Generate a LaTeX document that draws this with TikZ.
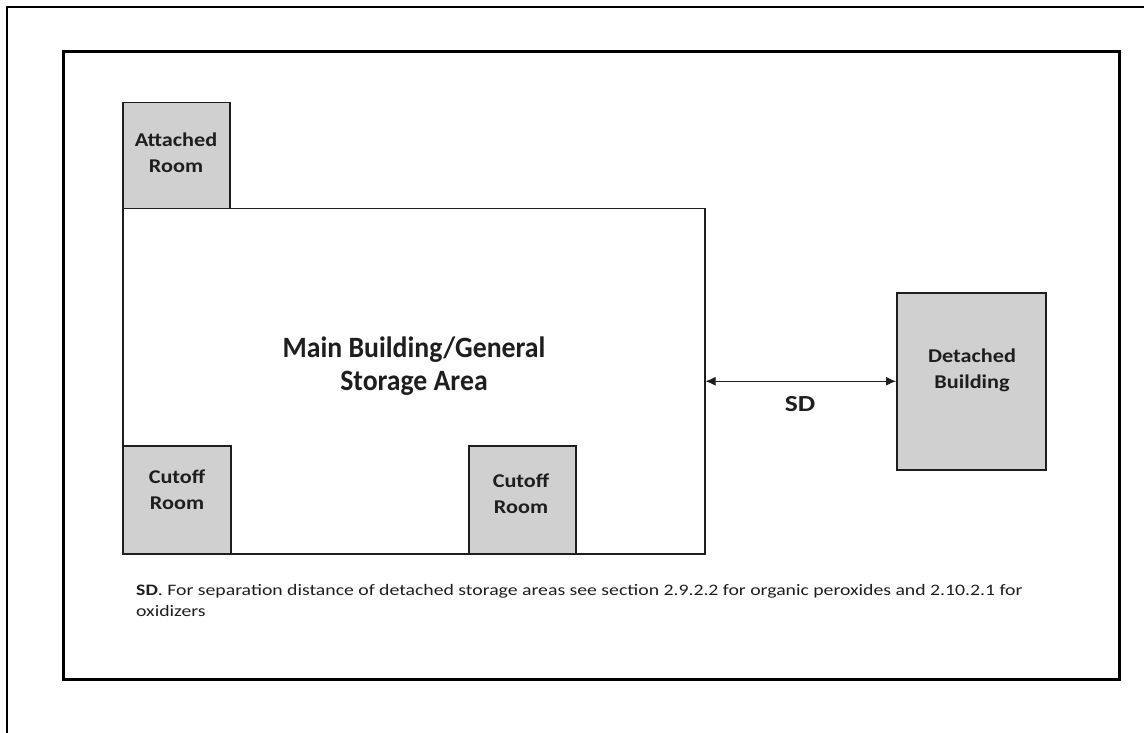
\documentclass[tikz,border=0pt]{standalone}
\usepackage{fontspec}
\setmainfont{Carlito}
\newfontfamily\widefont[FakeStretch=1.14]{Carlito}
\newfontfamily\notefont[FakeStretch=1.2]{Carlito}
\newfontfamily\longnotefont[FakeStretch=1.233]{Carlito}
\newfontfamily\narrowfont[FakeStretch=0.94]{Carlito}
\usetikzlibrary{arrows.meta}

\definecolor{roomgray}{RGB}{208,208,208}
\definecolor{inkline}{RGB}{30,30,30}

\begin{document}
\begin{tikzpicture}[x=1pt, y=-1pt, line join=miter,
  room/.style={draw=inkline, line width=1.5pt, fill=roomgray, inner sep=0pt, anchor=north west},
  roomtext/.style={align=center, inner sep=0pt, text=inkline, font=\widefont\fontsize{19.5}{26}\selectfont\bfseries},
  >={Latex[length=10pt,width=9pt]}]

  %% ==== frames ====
  \draw[line width=1.5pt] (1144,7) -- (7,7) -- (7,733);
  \draw[line width=3pt] (63,52) rectangle (1119,679);

  %% ==== buildings ====
  \node[room, fill=white, minimum width=582pt, minimum height=345pt] (main) at (122,208) {};
  \node[room, minimum width=107pt, minimum height=106pt] (attached) at (122,102) {};
  \node[room, minimum width=108pt, minimum height=108pt] (cutoffA) at (122,445) {};
  \node[room, minimum width=107pt, minimum height=108pt] (cutoffB) at (468,445) {};
  \node[room, minimum width=149pt, minimum height=177pt] (detached) at (896,292) {};

  %% ==== labels ====
  \node[roomtext] (attachedlbl) at (176,153) {Attached\\Room};
  \node[roomtext] (cutoffAlbl) at (177,490) {Cutoff\\Room};
  \node[roomtext] (cutoffBlbl) at (521,493.5) {Cutoff\\Room};
  \node[roomtext] (detachedlbl) at (972,370) {Detached\\Building};
  \node[roomtext, font=\narrowfont\fontsize{29.5}{33}\selectfont\bfseries] (mainlbl) at (414,366) {Main Building/General\\Storage Area};

  %% ==== separation distance ====
  \draw[<->, line width=1pt, draw=inkline] (main.east) -- (detached.west);
  \node[anchor=base, inner sep=0pt, text=inkline, font=\notefont\fontsize{23}{28}\selectfont\bfseries] (sdlbl) at (800,411) {SD};

  %% ==== note ====
  \node[anchor=north west, inner sep=0pt, align=left, text=inkline, font=\longnotefont\fontsize{16}{21.5}\selectfont] (note) at (136,584)
    {\textbf{SD}. For separation distance of detached storage areas see section 2.9.2.2 for organic peroxides and 2.10.2.1 for\\oxidizers};

  \pgfresetboundingbox
  \path[use as bounding box] (0,0) rectangle (1144,733);
\end{tikzpicture}
\end{document}
